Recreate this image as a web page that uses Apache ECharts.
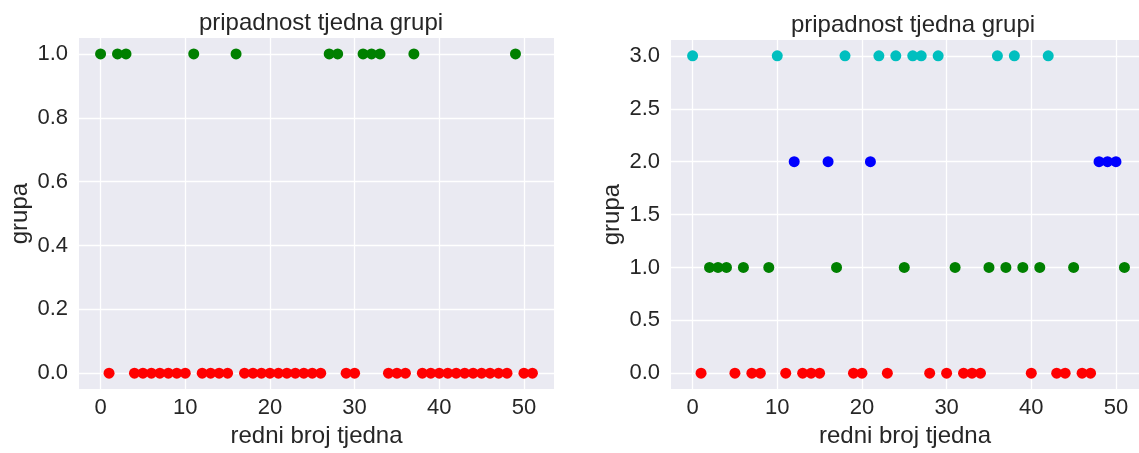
<!DOCTYPE html>
<html>
<head>
<meta charset="utf-8">
<script src="https://cdn.jsdelivr.net/npm/echarts@6/dist/echarts.min.js"></script>
<style>
html,body{margin:0;padding:0;background:#fff;}
#chart{width:1139px;height:453px;}
</style>
</head>
<body>
<div id="chart"></div>
<script>
// Group membership per week (index = redni broj tjedna 0..51)
const leftGroups = [1,0,1,1,0,0,0,0,0,0,0,1,0,0,0,0,1,0,0,0,0,0,0,0,0,0,0,1,1,0,0,1,1,1,0,0,0,1,0,0,0,0,0,0,0,0,0,0,0,1,0,0];
const rightGroups = [3,0,1,1,1,0,1,0,0,1,3,0,2,0,0,0,2,1,3,0,0,2,3,0,3,1,3,3,0,3,0,1,0,0,0,1,3,1,3,1,0,1,3,0,0,1,0,0,2,2,2,1];
const xTicks = [0,10,20,30,40,50];
const yTicksLeft = [0.0,0.2,0.4,0.6,0.8,1.0];
const yTicksRight = [0.0,0.5,1.0,1.5,2.0,2.5,3.0];
const leftColors = {0:'#ff0000',1:'#008000'};
const rightColors = {0:'#ff0000',1:'#008000',2:'#0000ff',3:'#00bfbf'};
const title = 'pripadnost tjedna grupi';
const xName = 'redni broj tjedna';
const yName = 'grupa';

const FONT = "'Liberation Sans', Arial, sans-serif";
const TXT = '#262626';

function pointsFor(groups, g){
  const out = [];
  groups.forEach((v,i)=>{ if(v===g) out.push([i,v]); });
  return out;
}

const chart = echarts.init(document.getElementById('chart'), null, {renderer:'canvas'});

function xAxisDef(gi, max){
  return {
    type:'value', gridIndex:gi, min:-2.55, max:max,
    name:xName, nameLocation:'middle', nameGap:32,
    nameTextStyle:{fontFamily:FONT,fontSize:24,color:TXT},
    axisLine:{show:false}, axisTick:{show:false}, splitLine:{show:false},
    axisLabel:{customValues:xTicks, fontFamily:FONT, fontSize:22, color:TXT, margin:8,
      formatter:v=>String(v)}
  };
}
function yAxisDef(gi, min, max, ticks){
  return {
    type:'value', gridIndex:gi, min:min, max:max,
    name:yName, nameLocation:'middle', nameGap:47, nameRotate:90,
    nameTextStyle:{fontFamily:FONT,fontSize:24,color:TXT},
    axisLine:{show:false}, axisTick:{show:false}, splitLine:{show:false},
    axisLabel:{customValues:ticks, fontFamily:FONT, fontSize:22, color:TXT, margin:11,
      formatter:v=>v.toFixed(1)}
  };
}
function gridLines(xi, yi, yt){
  const data = [];
  yt.forEach(v=>data.push({yAxis:v}));
  xTicks.forEach(v=>data.push({xAxis:v}));
  return {
    type:'scatter', xAxisIndex:xi, yAxisIndex:yi, data:[], z:1, silent:true,
    markLine:{silent:true, z:1, symbol:['none','none'], label:{show:false},
      lineStyle:{color:'#ffffff', width:1.3, type:'solid'}, data:data, animation:false}
  };
}

const series = [gridLines(0,0,yTicksLeft), gridLines(1,1,yTicksRight)];
[0,1].forEach(g=>{
  series.push({type:'scatter', xAxisIndex:0, yAxisIndex:0, z:10, symbolSize:11,
    itemStyle:{color:leftColors[g], opacity:1}, data:pointsFor(leftGroups,g)});
});
[0,1,2,3].forEach(g=>{
  series.push({type:'scatter', xAxisIndex:1, yAxisIndex:1, z:10, symbolSize:11,
    itemStyle:{color:rightColors[g], opacity:1}, data:pointsFor(rightGroups,g)});
});

chart.setOption({
  animation:false,
  backgroundColor:'#ffffff',
  title:[
    {text:title, left:316, top:6, textAlign:'center', textStyle:{fontFamily:FONT,fontSize:24,fontWeight:'normal',color:TXT}},
    {text:title, left:908, top:8, textAlign:'center', textStyle:{fontFamily:FONT,fontSize:24,fontWeight:'normal',color:TXT}}
  ],
  grid:[
    {left:79, top:38, width:475, height:354, show:true, backgroundColor:'#EAEAF2', borderWidth:0},
    {left:671, top:40, width:468, height:354, show:true, backgroundColor:'#EAEAF2', borderWidth:0}
  ],
  xAxis:[xAxisDef(0,53.55), xAxisDef(1,52.72)],
  yAxis:[yAxisDef(0,-0.05,1.05,yTicksLeft), yAxisDef(1,-0.15,3.15,yTicksRight)],
  series:series
});
</script>
</body>
</html>
